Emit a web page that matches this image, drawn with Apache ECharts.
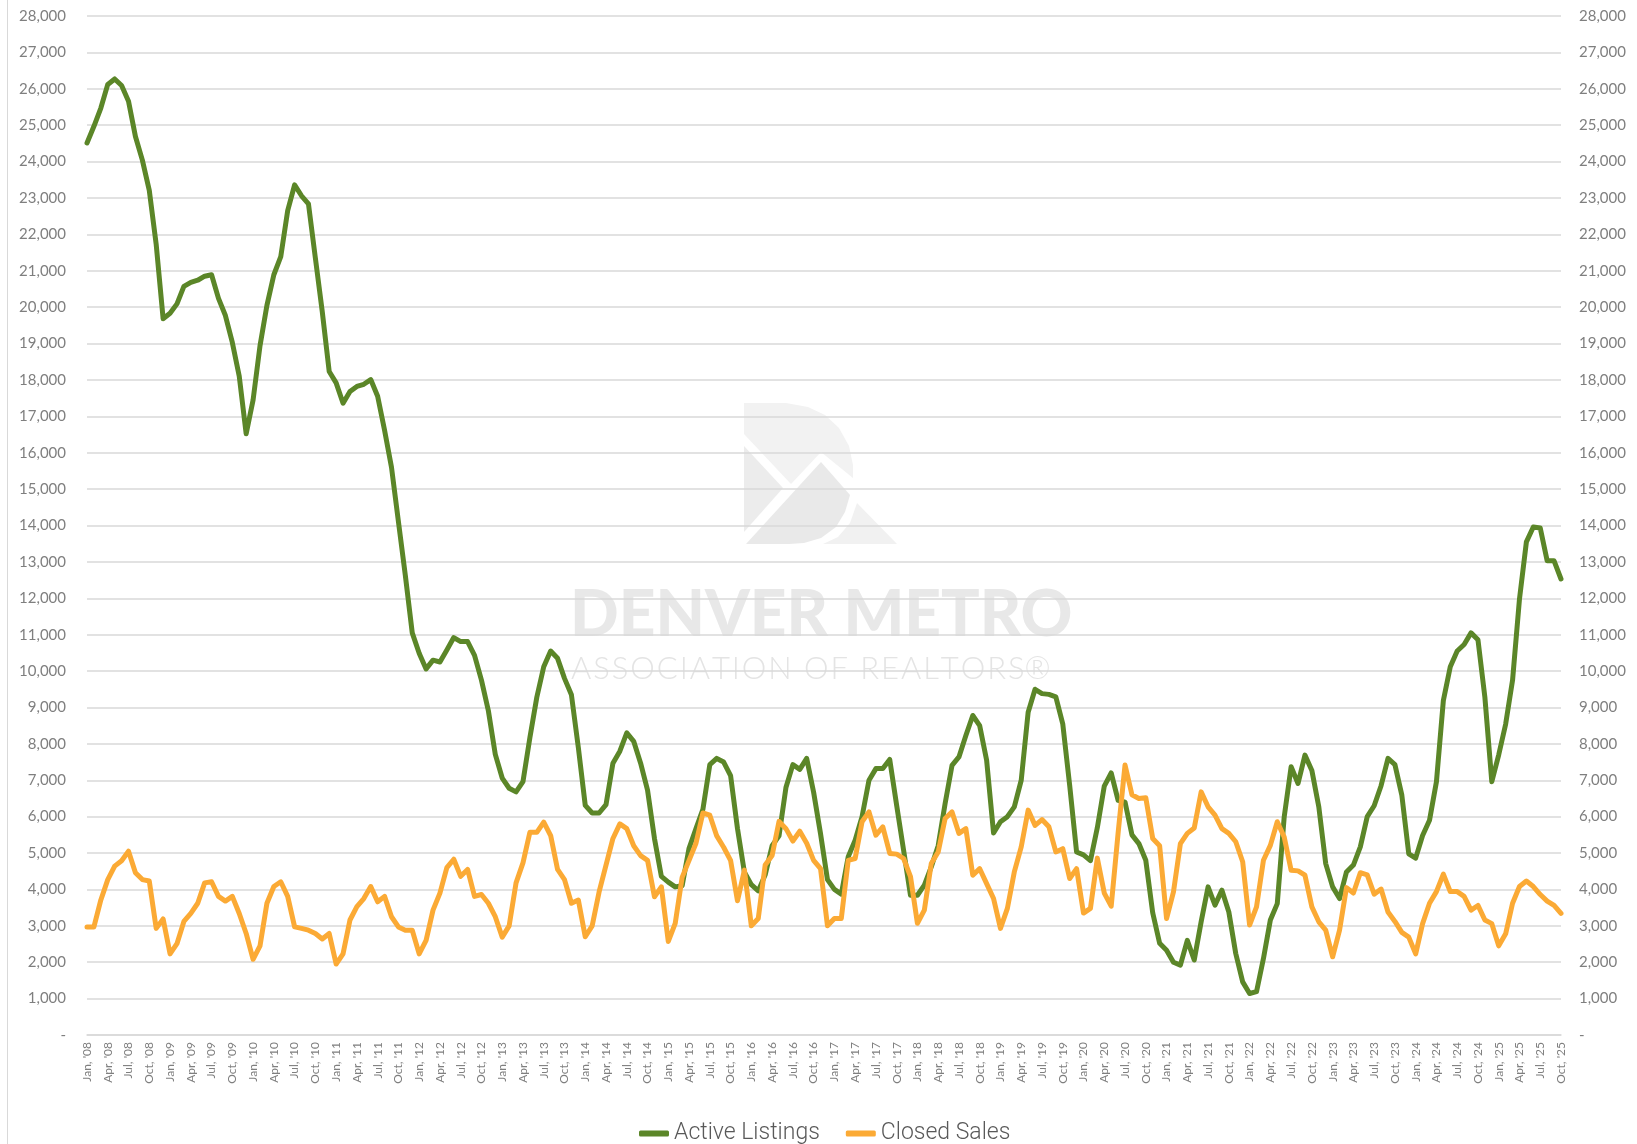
<!DOCTYPE html>
<html>
<head>
<meta charset="utf-8">
<title>Active Listings vs Closed Sales</title>
<script src="https://cdn.jsdelivr.net/npm/echarts@6/dist/echarts.min.js"></script>
<style>
    html, body { margin: 0; padding: 0; background: #fff; }
    #line { width: 1637px; height: 1144px; }
</style>
</head>
<body>
<div id="line"></div>
<script>
// month / year pieces used for the category labels ("Jan, '08")
const monthNames = ['Jan', 'Feb', 'Mar', 'Apr', 'May', 'Jun', 'Jul', 'Aug', 'Sep', 'Oct', 'Nov', 'Dec'];
const yearLabels = ['08', '09', '10', '11', '12', '13', '14', '15', '16', '17', '18', '19', '20', '21', '22', '23', '24', '25'];
const lastMonthIndex = 9; // data stops at Oct '25

// Active Listings, Jan '08 .. Oct '25 (one row per year)
const activeListings = [
    24510, 24970, 25470, 26120, 26270, 26090, 25660, 24690, 24040, 23210, 21720, 19680,
    19830, 20090, 20570, 20680, 20740, 20850, 20890, 20240, 19770, 19030, 18100, 16520,
    17450, 18940, 20050, 20890, 21390, 22650, 23360, 23060, 22840, 21350, 19870, 18230,
    17920, 17360, 17680, 17820, 17880, 18010, 17550, 16620, 15600, 14110, 12630, 11050,
    10490, 10060, 10300, 10250, 10580, 10920, 10810, 10810, 10430, 9750, 8910, 7710,
    7060, 6780, 6680, 6960, 8170, 9280, 10120, 10550, 10350, 9800, 9350, 7900,
    6310, 6100, 6100, 6330, 7470, 7800, 8300, 8070, 7470, 6730, 5400, 4360,
    4200, 4070, 4100, 5130, 5670, 6200, 7430, 7600, 7500, 7130, 5670, 4470,
    4130, 3960, 4400, 5200, 5470, 6800, 7430, 7300, 7600, 6670, 5530, 4270,
    4000, 3870, 4900, 5350, 6000, 7000, 7320, 7320, 7570, 6310, 5080, 3840,
    3840, 4120, 4620, 5200, 6360, 7410, 7640, 8230, 8780, 8500, 7550, 5550,
    5860, 6000, 6270, 7000, 8870, 9500, 9380, 9360, 9290, 8550, 6860, 5030,
    4950, 4790, 5700, 6840, 7200, 6450, 6400, 5500, 5260, 4800, 3360, 2520,
    2330, 2000, 1920, 2600, 2060, 3110, 4070, 3570, 3980, 3380, 2240, 1460,
    1140, 1190, 2100, 3160, 3610, 5990, 7370, 6910, 7690, 7270, 6270, 4710,
    4070, 3750, 4480, 4670, 5170, 6000, 6300, 6850, 7600, 7430, 6590, 4980,
    4860, 5480, 5900, 6960, 9190, 10120, 10550, 10730, 11050, 10860, 9280, 6960,
    7700, 8540, 9750, 11980, 13550, 13960, 13930, 13030, 13030, 12530
];

// Closed Sales, Jan '08 .. Oct '25 (one row per year)
const closedSales = [
    2970, 2970, 3710, 4270, 4640, 4790, 5050, 4460, 4270, 4230, 2930, 3190,
    2230, 2510, 3120, 3340, 3620, 4180, 4210, 3810, 3680, 3810, 3340, 2790,
    2080, 2450, 3620, 4080, 4210, 3810, 2970, 2930, 2880, 2790, 2640, 2790,
    1950, 2230, 3160, 3530, 3750, 4080, 3660, 3810, 3250, 2970, 2880, 2880,
    2230, 2600, 3430, 3900, 4600, 4830, 4360, 4550, 3810, 3860, 3620, 3250,
    2690, 3000, 4180, 4730, 5570, 5570, 5850, 5480, 4550, 4270, 3620, 3710,
    2700, 3000, 3930, 4670, 5400, 5800, 5670, 5200, 4930, 4800, 3800, 4070,
    2570, 3070, 4330, 4800, 5270, 6100, 6040, 5470, 5160, 4800, 3690, 4530,
    3000, 3200, 4670, 4930, 5870, 5670, 5330, 5600, 5270, 4800, 4570, 3000,
    3200, 3200, 4800, 4850, 5860, 6130, 5490, 5720, 4990, 4970, 4850, 4350,
    3070, 3430, 4710, 5030, 5950, 6130, 5540, 5670, 4390, 4570, 4160, 3750,
    2930, 3480, 4480, 5170, 6180, 5760, 5920, 5720, 5030, 5120, 4300, 4570,
    3350, 3480, 4860, 3900, 3540, 5550, 7420, 6600, 6500, 6520, 5400, 5200,
    3200, 3930, 5260, 5540, 5690, 6680, 6270, 6040, 5670, 5540, 5310, 4760,
    3020, 3520, 4800, 5210, 5860, 5440, 4530, 4510, 4390, 3520, 3110, 2880,
    2150, 2880, 4050, 3900, 4460, 4400, 3870, 4010, 3380, 3120, 2820, 2690,
    2230, 3060, 3620, 3940, 4420, 3940, 3940, 3810, 3430, 3560, 3160, 3060,
    2450, 2780, 3620, 4080, 4230, 4080, 3860, 3680, 3560, 3340
];

// value axis range shared by both sides
const axisMin = 0;
const axisMax = 28000;
const axisStep = 1000;

let categories = [];
yearLabels.forEach(function (yy, y) {
    monthNames.forEach(function (m, k) {
        if (y === yearLabels.length - 1 && k > lastMonthIndex) return;
        categories.push(m + ", '" + yy);
    });
});

const tickColor = '#7f7f7f';
const gridColor = '#d9d9d9';

function fmtValue(v) {
    return v === 0 ? '-' : v.toLocaleString('en-US');
}

// spread letters a little (watermark subtitle is letter-spaced)
function spaced(s) {
    return s.split('').join('\u200A');
}

const element = document.getElementById('line');
const echartsInstance = echarts.init(element, null, {renderer: 'canvas'});

let option = {
    animation: false,
    backgroundColor: '#ffffff',
    color: ['#5b8628', '#fbaa35'],
    grid: {
        left: 87,
        right: 76,
        top: 16,
        bottom: 109
    },
    legend: {
        data: ['Active Listings', 'Closed Sales'],
        left: 634,
        top: 1117,
        icon: 'roundRect',
        itemWidth: 30,
        itemHeight: 6,
        itemGap: 26,
        textStyle: {
            fontFamily: 'Roboto',
            fontWeight: 300,
            fontSize: 23,
            color: '#595959'
        }
    },
    xAxis: [
        {
            type: 'category',
            boundaryGap: false,
            data: categories,
            axisLine: {lineStyle: {color: gridColor, width: 1.5}},
            axisTick: {show: false},
            axisLabel: {
                interval: 2,
                rotate: 90,
                margin: 7,
                color: tickColor,
                fontFamily: 'Lato',
                fontSize: 12
            }
        }
    ],
    yAxis: [
        {
            type: 'value',
            min: axisMin,
            max: axisMax,
            interval: axisStep,
            axisLine: {show: false},
            axisTick: {show: false},
            splitLine: {lineStyle: {color: gridColor, width: 1.5}},
            axisLabel: {
                formatter: fmtValue,
                margin: 21,
                color: tickColor,
                fontFamily: 'Lato',
                fontSize: 15
            }
        },
        {
            type: 'value',
            position: 'right',
            min: axisMin,
            max: axisMax,
            interval: axisStep,
            axisLine: {show: false},
            axisTick: {show: false},
            splitLine: {show: false},
            axisLabel: {
                formatter: fmtValue,
                margin: 18,
                color: tickColor,
                fontFamily: 'Lato',
                fontSize: 15
            }
        }
    ],
    graphic: [
        // left border of the chart frame
        {type: 'line', z: -10, silent: true, shape: {x1: 7.5, y1: 0, x2: 7.5, y2: 1144}, style: {stroke: '#d9d9d9', lineWidth: 1}},
        // watermark logo
        {type: 'polygon', z: -10, silent: true,
            shape: {points: [[744, 403], [786, 403], [808, 407], [825, 415], [839, 428], [849, 446], [853, 465], [853, 478], [821, 452], [791, 484], [744, 434]]},
            style: {fill: '#f2f2f2'}},
        {type: 'polygon', z: -10, silent: true,
            shape: {points: [[744, 446], [783, 488], [744, 532]]},
            style: {fill: '#ececec'}},
        {type: 'polygon', z: -10, silent: true,
            shape: {points: [[821, 462], [850, 495], [845, 512], [836, 527], [821, 538], [804, 543], [789, 544], [746, 544]]},
            style: {fill: '#e9e9e9'}},
        {type: 'polygon', z: -10, silent: true,
            shape: {points: [[823, 544], [838, 537], [850, 523], [857, 503], [897, 544]]},
            style: {fill: '#f1f1f1'}},
        // watermark text
        {type: 'text', z: -10, silent: true, left: 570, top: 583,
            style: {text: 'DENVER METRO', fill: '#e8e8e8', font: '900 64px Lato'}},
        {type: 'text', z: -10, silent: true, left: 571, top: 653,
            style: {text: spaced('ASSOCIATION OF REALTORS') + '\u00AE', fill: '#e4e4e4', font: '300 31px Lato'}}
    ],
    series: [
        {
            name: 'Active Listings',
            type: 'line',
            data: activeListings,
            showSymbol: false,
            lineStyle: {width: 5, join: 'round', cap: 'round'}
        },
        {
            name: 'Closed Sales',
            type: 'line',
            data: closedSales,
            showSymbol: false,
            lineStyle: {width: 5, join: 'round', cap: 'round'}
        }
    ]
};

echartsInstance.setOption(option);
</script>
</body>
</html>
